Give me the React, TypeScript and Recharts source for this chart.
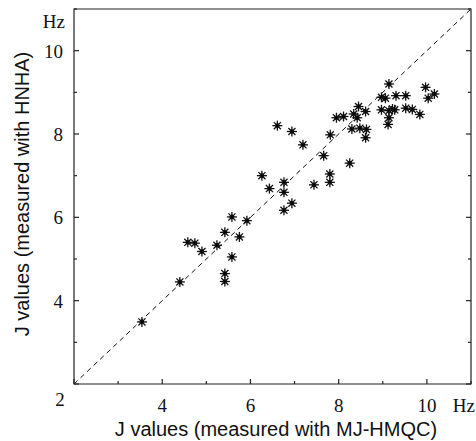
import { ScatterChart, Scatter, XAxis, YAxis, ReferenceLine, ReferenceArea, Label } from 'recharts';

// J couplings, Hz
const mjHmqc = [
  3.54, 4.4, 4.58, 4.74, 4.9, 5.24, 5.42, 5.42, 5.42, 5.58, 5.58, 5.75, 5.92, 6.26,
  6.43, 6.61, 6.76, 6.76, 6.76, 6.94, 6.94, 7.19, 7.44, 7.66, 7.8, 7.8, 7.81, 7.95,
  8.11, 8.25, 8.3, 8.34, 8.42, 8.45, 8.48, 8.61, 8.63, 8.61, 8.97, 9.06, 9.14, 8.97,
  9.14, 9.22, 9.27, 9.14, 9.12, 9.3, 9.52, 9.52, 9.67, 9.84, 9.97, 10.03, 10.17,
];
const hnha = [
  3.49, 4.45, 5.4, 5.38, 5.18, 5.33, 5.64, 4.65, 4.46, 6.01, 5.05, 5.53, 5.92, 7.0,
  6.69, 8.2, 6.84, 6.6, 6.17, 6.34, 8.06, 7.74, 6.78, 7.48, 7.04, 6.84, 7.98, 8.39,
  8.42, 7.3, 8.12, 8.48, 8.39, 8.66, 8.14, 8.54, 8.11, 7.91, 8.88, 8.86, 9.2, 8.58,
  8.56, 8.6, 8.58, 8.39, 8.23, 8.92, 8.92, 8.62, 8.59, 8.47, 9.12, 8.86, 8.96,
];

const ticks = [2, 3, 4, 5, 6, 7, 8, 9, 10, 11];
const labelled = [4, 6, 8, 10];

const points = mjHmqc.map((x, i) => ({ x, y: hnha[i] }));

const serif = 'Liberation Serif, Times New Roman, serif';
const sans = 'Liberation Sans, Arial, sans-serif';

function Asterisk(props: any) {
  const { cx, cy } = props;
  const r = 5;
  const d = r * 0.707;
  return (
    <g stroke="#111" strokeWidth={1.3}>
      <line x1={cx - r} y1={cy} x2={cx + r} y2={cy} />
      <line x1={cx} y1={cy - r} x2={cx} y2={cy + r} />
      <line x1={cx - d} y1={cy - d} x2={cx + d} y2={cy + d} />
      <line x1={cx - d} y1={cy + d} x2={cx + d} y2={cy - d} />
      <circle cx={cx} cy={cy} r={1.7} fill="#000" />
    </g>
  );
}

function BottomTick({ x, y, payload }: any) {
  const v = payload.value;
  const len = v % 2 === 0 ? 5 : 3;
  return (
    <g>
      <path d={`M${x},${y}V${y - len}`} stroke="#222" strokeWidth={1.2} fill="none" />
      {labelled.includes(v) && (
        <text x={x} y={y + 28} textAnchor="middle" fontFamily={serif} fontSize={19} fill="#111">
          {v}
        </text>
      )}
      {v === 2 && (
        <text x={x - 14} y={y + 22} textAnchor="middle" fontFamily={serif} fontSize={19} fill="#111">
          2
        </text>
      )}
      {v === 11 && (
        <text x={x + 4} y={y + 28} textAnchor="end" fontFamily={serif} fontSize={19} fill="#111">
          Hz
        </text>
      )}
    </g>
  );
}

function LeftTick({ x, y, payload }: any) {
  const v = payload.value;
  const len = v % 2 === 0 ? 5 : 3;
  return (
    <g>
      <path d={`M${x},${y}H${x + len}`} stroke="#222" strokeWidth={1.2} fill="none" />
      {labelled.includes(v) && (
        <text x={x - 11} y={y + 7} textAnchor="end" fontFamily={serif} fontSize={19} fill="#111">
          {v}
        </text>
      )}
      {v === 11 && (
        <text x={x - 9} y={y + 19} textAnchor="end" fontFamily={serif} fontSize={19} fill="#111">
          Hz
        </text>
      )}
    </g>
  );
}

function TopTick({ x, y, payload }: any) {
  const len = payload.value % 2 === 0 ? 5 : 3;
  return <path d={`M${x},${y}V${y + len}`} stroke="#222" strokeWidth={1.2} fill="none" />;
}

function RightTick({ x, y, payload }: any) {
  const len = payload.value % 2 === 0 ? 5 : 3;
  return <path d={`M${x},${y}H${x - len}`} stroke="#222" strokeWidth={1.2} fill="none" />;
}

export default function App() {
  return (
    <div style={{ position: 'absolute', left: 0, top: 0, background: '#fff' }}>
      <ScatterChart width={476} height={441} margin={{ top: 8, right: 4, bottom: 0, left: 0 }}>
        <XAxis
          xAxisId="b"
          dataKey="x"
          type="number"
          domain={[2, 11]}
          ticks={ticks}
          interval={0}
          height={57}
          tickSize={0}
          tickMargin={0}
          tick={<BottomTick />}
          axisLine={false}
          allowDataOverflow
        >
          <Label
            content={() => (
              <text x={276} y={436} textAnchor="middle" fontFamily={sans} fontSize={20} fill="#111">
                J values (measured with MJ-HMQC)
              </text>
            )}
          />
        </XAxis>
        <XAxis
          xAxisId="t"
          orientation="top"
          type="number"
          domain={[2, 11]}
          ticks={ticks}
          interval={0}
          height={1}
          tickSize={0}
          tickMargin={0}
          tick={<TopTick />}
          axisLine={false}
          allowDataOverflow
        />
        <YAxis
          yAxisId="l"
          dataKey="y"
          type="number"
          domain={[2, 11]}
          ticks={ticks}
          interval={0}
          width={74}
          tickSize={0}
          tickMargin={0}
          tick={<LeftTick />}
          axisLine={false}
          allowDataOverflow
        >
          <Label
            content={() => (
              <text
                x={22}
                y={194}
                transform="rotate(-90 22 194)"
                textAnchor="middle"
                dominantBaseline="central"
                fontFamily={sans}
                fontSize={20}
                fill="#111"
              >
                J values (measured with HNHA)
              </text>
            )}
          />
        </YAxis>
        <YAxis
          yAxisId="r"
          orientation="right"
          type="number"
          domain={[2, 11]}
          ticks={ticks}
          interval={0}
          width={1}
          tickSize={0}
          tickMargin={0}
          tick={<RightTick />}
          axisLine={false}
          allowDataOverflow
        />
        <ReferenceArea
          xAxisId="b"
          yAxisId="l"
          x1={2}
          x2={11}
          y1={2}
          y2={11}
          fill="none"
          fillOpacity={0}
          stroke="#222"
          strokeWidth={1.2}
          ifOverflow="visible"
        />
        <ReferenceLine
          xAxisId="b"
          yAxisId="l"
          segment={[
            { x: 2, y: 2 },
            { x: 11, y: 11 },
          ]}
          stroke="#111"
          strokeDasharray="5 4"
        />
        <Scatter
          xAxisId="b"
          yAxisId="l"
          data={points}
          shape={<Asterisk />}
          isAnimationActive={false}
        />
      </ScatterChart>
    </div>
  );
}
